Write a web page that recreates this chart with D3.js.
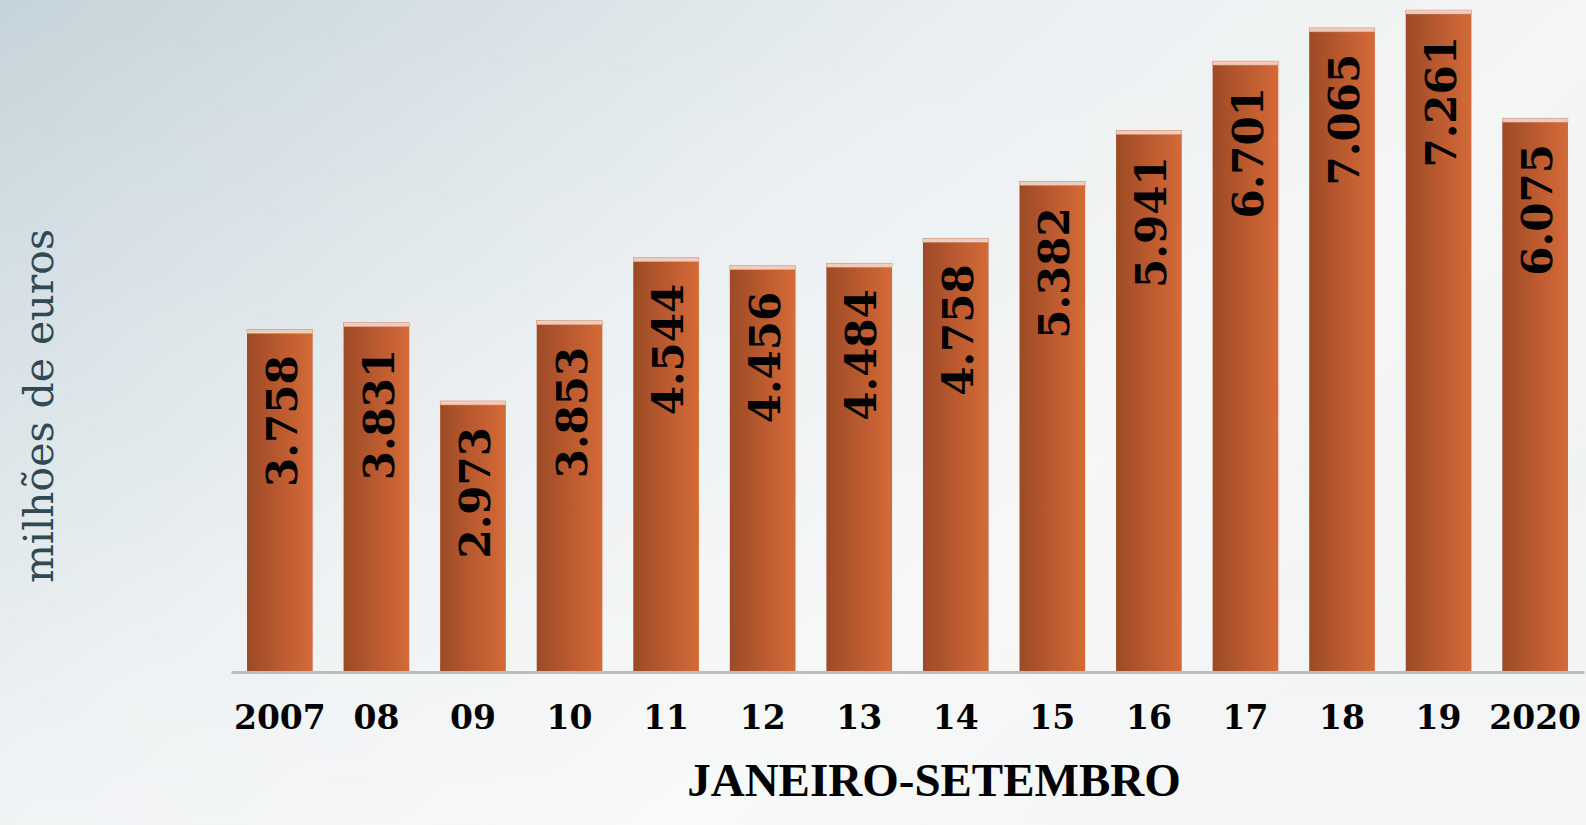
<!DOCTYPE html>
<html>
<head>
<meta charset="utf-8">
<script src="https://cdn.jsdelivr.net/npm/d3@7"></script>
<style>
html,body{margin:0;padding:0;overflow:hidden;}
svg{display:block;}
</style>
</head>
<body>
<svg id="chart" width="1586" height="825"></svg>
<script>
const years = ["2007","08","09","10","11","12","13","14","15","16","17","18","19","2020"];
const values = [3758,3831,2973,3853,4544,4456,4484,4758,5382,5941,6701,7065,7261,6075];
const yTitle = "milhões de euros";
const xTitle = "JANEIRO-SETEMBRO";

const W = 1586, H = 825;
const svg = d3.select("#chart");
const defs = svg.append("defs");

const bg = defs.append("linearGradient").attr("id","bg")
  .attr("x1","0").attr("y1","0").attr("x2","1").attr("y2","0.6");
bg.append("stop").attr("offset","0").attr("stop-color","#c4d3da");
bg.append("stop").attr("offset","0.18").attr("stop-color","#d3dee3");
bg.append("stop").attr("offset","0.45").attr("stop-color","#e9eef0");
bg.append("stop").attr("offset","0.75").attr("stop-color","#f4f6f6");
bg.append("stop").attr("offset","1").attr("stop-color","#eef1f2");

const vg = defs.append("linearGradient").attr("id","bgv")
  .attr("x1","0").attr("y1","0").attr("x2","0").attr("y2","1");
vg.append("stop").attr("offset","0").attr("stop-color","#ffffff").attr("stop-opacity","0");
vg.append("stop").attr("offset","0.6").attr("stop-color","#ffffff").attr("stop-opacity","0.15");
vg.append("stop").attr("offset","1").attr("stop-color","#ffffff").attr("stop-opacity","0.35");

const barG = defs.append("linearGradient").attr("id","bar")
  .attr("x1","0").attr("y1","0").attr("x2","1").attr("y2","0");
barG.append("stop").attr("offset","0").attr("stop-color","#9c4a26");
barG.append("stop").attr("offset","0.5").attr("stop-color","#ba5a2f");
barG.append("stop").attr("offset","1").attr("stop-color","#d56a38");

svg.append("rect").attr("width",W).attr("height",H).attr("fill","url(#bg)");
svg.append("rect").attr("width",W).attr("height",H).attr("fill","url(#bgv)");

const x = d3.scaleBand().domain(years).range([231,1584]).paddingInner(0.32).paddingOuter(0.166);
const y = d3.scaleLinear().domain([0,7261]).range([672,10]);

const fmt = d3.formatLocale({decimal:",", thousands:".", grouping:[3], currency:["",""]}).format(",");

const data = years.map((k,i)=>({k, v: values[i]}));

const g = svg.append("g");
g.selectAll("rect.bar").data(data).enter().append("rect")
  .attr("class","bar")
  .attr("x",d=>x(d.k)).attr("width",x.bandwidth())
  .attr("y",d=>y(d.v)).attr("height",d=>y(0)-y(d.v))
  .attr("fill","url(#bar)");
g.selectAll("rect.cap").data(data).enter().append("rect")
  .attr("class","cap")
  .attr("x",d=>x(d.k)).attr("width",x.bandwidth())
  .attr("y",d=>y(d.v)).attr("height",4)
  .attr("fill","#efcdbd").attr("stroke","#d99a80").attr("stroke-width",0.5);

g.selectAll("text.val").data(data).enter().append("text")
  .attr("class","val")
  .attr("transform",d=>`translate(${x(d.k)+x.bandwidth()/2+2},${y(d.v)+26}) rotate(-90)`)
  .attr("text-anchor","end")
  .attr("dy","0.36em")
  .style("font-family","'DejaVu Serif', serif")
  .style("font-weight","bold")
  .style("font-size","42px")
  .attr("fill","#000")
  .text(d=>fmt(d.v));

const ax = svg.append("g").attr("transform","translate(0,672)")
  .call(d3.axisBottom(x).tickSizeInner(0).tickSizeOuter(0).tickPadding(0));
ax.select(".domain").attr("stroke","#bdbdbd").attr("stroke-width",3);
ax.selectAll("text")
  .attr("y",57).attr("dy",0)
  .style("font-family","'DejaVu Serif', serif")
  .style("font-weight","bold")
  .style("font-size","33px")
  .attr("fill","#000");

svg.append("text")
  .attr("transform","translate(53,406) rotate(-90)")
  .attr("text-anchor","middle")
  .style("font-family","'DejaVu Serif', serif")
  .style("font-size","41px")
  .attr("fill","#2f4a55")
  .text(yTitle);

svg.append("text")
  .attr("x",934).attr("y",796)
  .attr("text-anchor","middle")
  .style("font-family","'Liberation Serif', serif")
  .style("font-weight","bold")
  .style("font-size","47px")
  .attr("fill","#000")
  .text(xTitle);
</script>
</body>
</html>
